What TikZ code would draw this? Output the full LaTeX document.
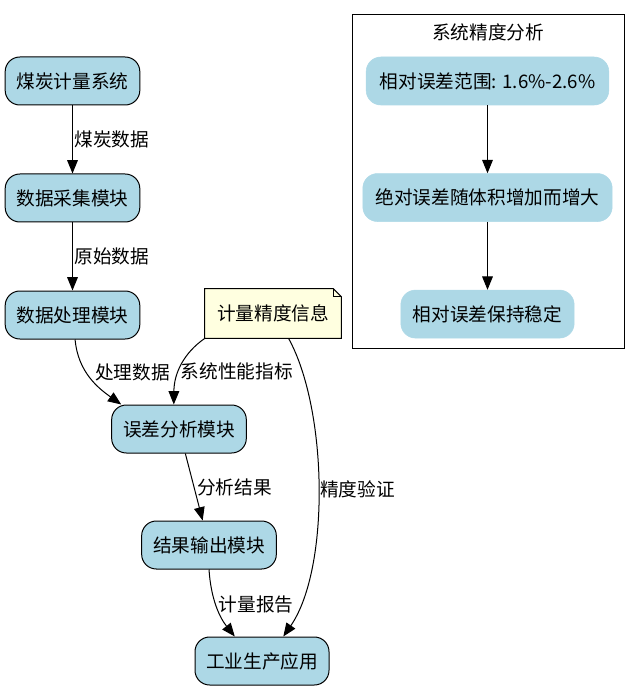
\documentclass[tikz,border=0pt]{standalone}
\usepackage{fontspec}
\setmainfont{Noto Sans CJK SC}
\usepackage{tikz}
\usetikzlibrary{positioning,arrows.meta,fit,backgrounds}
\definecolor{nodeblue}{HTML}{ADD8E6}
\definecolor{noteyellow}{HTML}{FFFFE0}

\begin{document}
\begin{tikzpicture}[
      x=0.75pt,y=-0.75pt,
      font=\fontsize{14pt}{17pt}\selectfont,
      box/.style={draw=black,fill=nodeblue,rounded corners=11pt,minimum width=101pt,minimum height=36pt,inner sep=2pt,line width=0.75pt},
      inbox/.style={draw=nodeblue,fill=nodeblue,rounded corners=11pt,minimum height=36pt,inner sep=2pt},
      notebox/.style={minimum width=102pt,minimum height=37pt,inner sep=2pt},
      arr/.style={-{Triangle[length=10pt,width=8pt]},line width=0.75pt},
      lbl/.style={inner sep=1pt,anchor=west}
    ]
      \useasboundingbox (0,0) rectangle (640,691);

      % main flow
      \node[box] (coal) at (72.5,81) {煤炭计量系统};
      \node[box,below=51pt of coal] (acq) {数据采集模块};
      \node[box,below=51pt of acq] (proc) {数据处理模块};
      \node[notebox] (note) at (273,313.5) {计量精度信息};
      \node[box] (err) at (179,429) {误差分析模块};
      \node[box] (res) at (209,545) {结果输出模块};
      \node[box,minimum width=100.5pt] (ind) at (262,661) {工业生产应用};

      \begin{scope}[on background layer]
        \filldraw[fill=noteyellow,line width=0.75pt] (note.south west) -- (note.south east) -- ([yshift=-6pt]note.north east) -- ([xshift=-6pt]note.north east) -- (note.north west) -- cycle;
        \draw[line width=0.75pt] ([xshift=-6pt]note.north east) |- ([yshift=-6pt]note.north east);
      \end{scope}

      \draw[arr] (coal) -- node[lbl]{煤炭数据} (acq);
      \draw[arr] (acq) -- node[lbl]{原始数据} (proc);
      \draw[arr] (proc.-84) .. controls (78,372) and (98,388) .. node[lbl,pos=0.5,xshift=2pt,yshift=4pt]{处理数据} (err.157);
      \draw[arr] (note.south west) .. controls (185,352) and (174,372) .. node[lbl,pos=0.6]{系统性能指标} (err.102);
      \draw[arr] (err) -- node[lbl,xshift=1pt]{分析结果} (res);
      \draw[arr] (note.-58) .. controls (328,410) and (330,569) .. node[lbl,pos=0.5]{精度验证} (ind.49);
      \draw[arr] (res.south) .. controls (211,600) and (220,618) .. node[lbl,pos=0.5,yshift=2pt]{计量报告} (ind.138);

      % precision cluster
      \node[draw,line width=0.75pt,inner sep=0pt,fit={(352,15) (624,348)}] (cluster) {};
      \node (clustertitle) at (488,32) {系统精度分析};
      \node[inbox,minimum width=182pt] (range) at (487.5,81) {相对误差范围: 1.6\%-2.6\%};
      \node[inbox,minimum width=187pt,below=51pt of range] (absolute) {绝对误差随体积增加而增大};
      \node[inbox,minimum width=130pt,below=51pt of absolute] (stable) {相对误差保持稳定};

      \draw[arr] (range) -- (absolute);
      \draw[arr] (absolute) -- (stable);
    \end{tikzpicture}
\end{document}
